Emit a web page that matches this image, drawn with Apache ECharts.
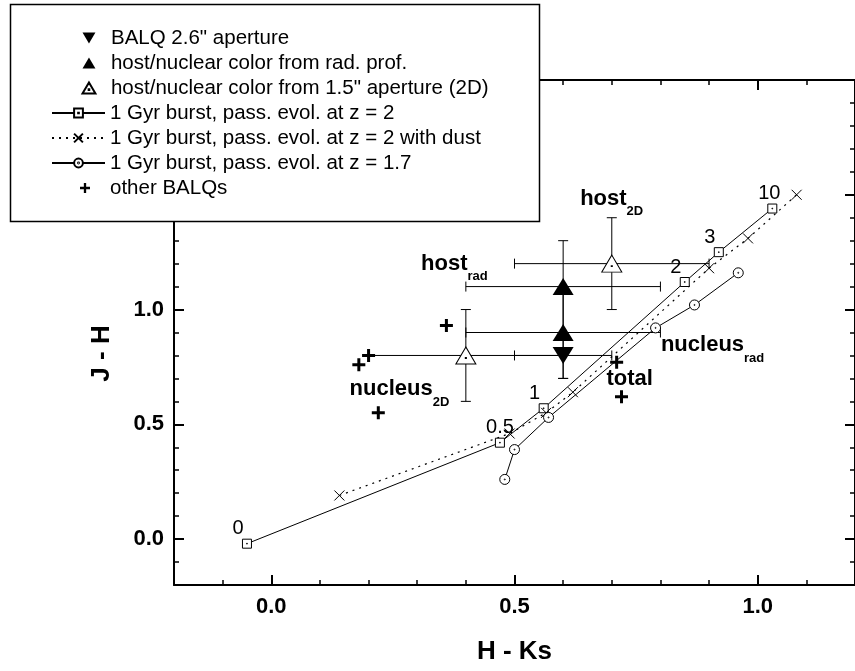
<!DOCTYPE html>
<html>
<head>
<meta charset="utf-8">
<script src="https://cdn.jsdelivr.net/npm/echarts@6/dist/echarts.min.js"></script>
<style>
  html, body { margin: 0; padding: 0; background: #fff; }
  #main { width: 855px; height: 671px; }
</style>
</head>
<body>
<div id="main"></div>
<script>
// J-H vs H-Ks colours of the BALQ, its host/nucleus split and 1 Gyr burst tracks

// rows: [H-Ks, J-H, H-Ks low, H-Ks high, J-H low, J-H high]
const balqAperture = [[0.6, 0.8, 0.5, 0.7, 0.7, 0.9]];
const radProfile = [[0.6, 1.1, 0.4, 0.8, 0.9, 1.3], [0.6, 0.9, 0.4, 0.8, 0.7, 1.1]];
const aperture2D = [[0.7, 1.2, 0.5, 0.9, 1.0, 1.4], [0.4, 0.8, 0.2, 0.6, 0.6, 1.0]];

// model tracks, [H-Ks, J-H]
const burstAges = ['0', '0.5', '1', '2', '3', '10'];
const burstZ2 = [[-0.05, -0.02], [0.47, 0.42], [0.56, 0.57], [0.85, 1.12], [0.92, 1.25], [1.03, 1.44]];
const burstZ2Dust = [[0.14, 0.19], [0.49, 0.46], [0.565, 0.55], [0.62, 0.64], [0.90, 1.18], [0.98, 1.31], [1.08, 1.50]];
const burstZ17 = [[0.48, 0.26], [0.50, 0.39], [0.57, 0.53], [0.79, 0.92], [0.87, 1.02], [0.96, 1.16]];

const otherBalqs = [[0.36, 0.93], [0.20, 0.80], [0.18, 0.76], [0.22, 0.55], [0.71, 0.77], [0.72, 0.62]];

// text in the plot: [word, subscript, H-Ks, J-H]
const notes = [
  ['host', '2D', 0.634, 1.482],
  ['host', 'rad', 0.307, 1.199],
  ['nucleus', '2D', 0.160, 0.654],
  ['nucleus', 'rad', 0.80, 0.844],
  ['total', '', 0.688, 0.699]
];

const majorX = [0, 0.5, 1.0];
const majorY = [0, 0.5, 1.0, 1.5, 2.0];

const FONT = '"Liberation Sans", Arial, sans-serif';
const ageShift = [-9, 0, -9, -9, -9, -3];

const squareDot = 'path://M0,0H10V10H0Z M4.6,4.6H5.4V5.4H4.6Z';
const circleDot = 'path://M10,5A5,5,0,1,1,0,5A5,5,0,1,1,10,5Z M5.5,5A0.5,0.5,0,1,1,4.5,5A0.5,0.5,0,1,1,5.5,5Z';
const cross = 'path://M0,0L10,10M10,0L0,10';
const triUp = 'path://M10,0L20,17L0,17Z';
const triDown = 'path://M0,0L20,0L10,17Z';
const triOpen = 'path://M10,0L20,17L0,17Z M9.5,10.5H10.5V11.5H9.5Z';
const plus = 'path://M5,0H8V5H13V8H8V13H5V8H0V5H5Z';

var myChart = echarts.init(document.getElementById('main'));

function renderErrorBar(params, api) {
  const c = api.coord([api.value(0), api.value(1)]);
  const xl = api.coord([api.value(2), api.value(1)]);
  const xh = api.coord([api.value(3), api.value(1)]);
  const yl = api.coord([api.value(0), api.value(4)]);
  const yh = api.coord([api.value(0), api.value(5)]);
  const cap = 5;
  const style = { stroke: '#000', lineWidth: 1 };
  const seg = (x1, y1, x2, y2) => ({ type: 'line', shape: { x1: x1, y1: y1, x2: x2, y2: y2 }, style: style });
  return {
    type: 'group',
    children: [
      seg(xl[0], c[1], xh[0], c[1]),
      seg(xl[0], c[1] - cap, xl[0], c[1] + cap),
      seg(xh[0], c[1] - cap, xh[0], c[1] + cap),
      seg(c[0], yl[1], c[0], yh[1]),
      seg(c[0] - cap, yl[1], c[0] + cap, yl[1]),
      seg(c[0] - cap, yh[1], c[0] + cap, yh[1])
    ]
  };
}

const tickFont = { fontFamily: FONT, fontSize: 22, fontWeight: 'bold', color: '#000' };
const black = { color: '#000', width: 2 };

function axis(dim, pos, major, labels) {
  const isX = dim === 'x';
  const a = {
    type: 'value', position: pos,
    min: -0.2, max: isX ? 1.2 : 2.0,
    splitLine: { show: false },
    axisLine: { show: major, onZero: false, lineStyle: black },
    axisTick: major
      ? { inside: true, length: 10, customValues: isX ? majorX : majorY, lineStyle: black }
      : { inside: true, length: 5, lineStyle: { color: '#000', width: 1.5 } },
    axisLabel: { show: false }
  };
  if (!major) a.interval = 0.1;
  if (labels) {
    a.axisLabel = Object.assign({
      show: true, customValues: isX ? majorX : majorY,
      formatter: v => v.toFixed(1), margin: isX ? 11 : 10
    }, tickFont);
  }
  return a;
}

const xMain = axis('x', 'bottom', true, true);
xMain.name = 'H - Ks';
xMain.nameLocation = 'middle';
xMain.nameGap = 54;
xMain.nameTextStyle = { fontFamily: FONT, fontSize: 26, fontWeight: 'bold', color: '#000' };

const yMain = axis('y', 'left', true, true);
yMain.name = 'J - H';
yMain.nameLocation = 'middle';
yMain.nameGap = 59;
yMain.nameTextStyle = { fontFamily: FONT, fontSize: 26, fontWeight: 'bold', color: '#000', padding: [0, 42, 0, 0] };

const legendBase = {
  orient: 'vertical', itemHeight: 11, itemGap: 3, padding: 0, z: 60,
  selectedMode: false,
  textStyle: { fontFamily: FONT, fontSize: 20.5, lineHeight: 22, color: '#000' }
};

const solidBlack = { color: '#000', opacity: 1 };

var option = {
  animation: false,
  backgroundColor: '#fff',
  grid: { left: 174, top: 80, width: 684.5, height: 505, containLabel: false },
  xAxis: [xMain, axis('x', 'bottom', false), axis('x', 'top', true), axis('x', 'top', false)],
  yAxis: [yMain, axis('y', 'left', false), axis('y', 'right', true), axis('y', 'right', false)],
  graphic: {
    elements: [{
      type: 'rect', z: 50,
      shape: { x: 10.5, y: 4.5, width: 529, height: 217 },
      style: { fill: '#fff', stroke: '#000', lineWidth: 1.5 }
    }]
  },
  legend: [
    Object.assign({}, legendBase, {
      left: 81.5, top: 27, itemWidth: 34,
      data: ['BALQ 2.6" aperture', 'host/nuclear color from rad. prof.', 'host/nuclear color from 1.5" aperture (2D)']
    }),
    Object.assign({}, legendBase, {
      left: 51, top: 102, itemWidth: 53,
      data: ['1 Gyr burst, pass. evol. at z = 2', '1 Gyr burst, pass. evol. at z = 2 with dust', '1 Gyr burst, pass. evol. at z = 1.7']
    }),
    Object.assign({}, legendBase, {
      left: 80, top: 177, itemWidth: 40, itemHeight: 10,
      data: ['other BALQs']
    })
  ],
  series: [
    {
      type: 'custom', name: 'error bars', z: 1, silent: true,
      renderItem: renderErrorBar,
      encode: { x: 0, y: 1 },
      data: balqAperture.concat(radProfile, aperture2D)
    },
    {
      type: 'line', name: '1 Gyr burst, pass. evol. at z = 2', z: 2,
      data: burstZ2.map((p, i) => ({
        value: p,
        label: { formatter: burstAges[i], offset: [ageShift[i], -15] }
      })),
      symbol: squareDot, symbolSize: 9,
      lineStyle: { color: '#000', width: 1 },
      itemStyle: { color: '#fff', borderColor: '#000', borderWidth: 1, opacity: 1 },
      label: { show: true, position: 'inside', fontFamily: FONT, fontSize: 20, color: '#000' }
    },
    {
      type: 'line', name: '1 Gyr burst, pass. evol. at z = 2 with dust', z: 2,
      data: burstZ2Dust,
      symbol: cross, symbolSize: 10,
      lineStyle: { color: '#000', width: 1.2, type: [2, 5] },
      itemStyle: { color: '#000', borderColor: '#000', borderWidth: 1, opacity: 1 }
    },
    {
      type: 'line', name: '1 Gyr burst, pass. evol. at z = 1.7', z: 2,
      data: burstZ17,
      symbol: circleDot, symbolSize: 10,
      lineStyle: { color: '#000', width: 1 },
      itemStyle: { color: '#fff', borderColor: '#000', borderWidth: 1, opacity: 1 }
    },
    {
      type: 'scatter', name: 'BALQ 2.6" aperture', z: 3,
      data: balqAperture, encode: { x: 0, y: 1 },
      symbol: triDown, symbolSize: [21, 17],
      itemStyle: solidBlack
    },
    {
      type: 'scatter', name: 'host/nuclear color from rad. prof.', z: 3,
      data: radProfile, encode: { x: 0, y: 1 },
      symbol: triUp, symbolSize: [21, 17],
      itemStyle: solidBlack
    },
    {
      type: 'scatter', name: 'host/nuclear color from 1.5" aperture (2D)', z: 3,
      data: aperture2D, encode: { x: 0, y: 1 },
      symbol: triOpen, symbolSize: [20, 17],
      itemStyle: { color: '#fff', borderColor: '#000', borderWidth: 1, opacity: 1 }
    },
    {
      type: 'scatter', name: 'other BALQs', z: 3,
      data: otherBalqs,
      symbol: plus, symbolSize: 13,
      itemStyle: solidBlack
    },
    {
      type: 'scatter', name: 'notes', z: 4, silent: true,
      data: notes.map(n => [n[2], n[3]]),
      symbolSize: 1,
      itemStyle: { color: 'rgba(0,0,0,0)', opacity: 1 },
      label: {
        show: true, position: 'right', distance: 0, color: '#000', opacity: 1,
        formatter: p => '{w|' + notes[p.dataIndex][0] + '}' + (notes[p.dataIndex][1] ? '{s|' + notes[p.dataIndex][1] + '}' : ''),
        rich: {
          w: { fontFamily: FONT, fontSize: 22, fontWeight: 'bold', color: '#000' },
          s: { fontFamily: FONT, fontSize: 13, fontWeight: 'bold', color: '#000', padding: [26, 0, 0, 0] }
        }
      }
    }
  ]
};

option && myChart.setOption(option);
</script>
</body>
</html>
